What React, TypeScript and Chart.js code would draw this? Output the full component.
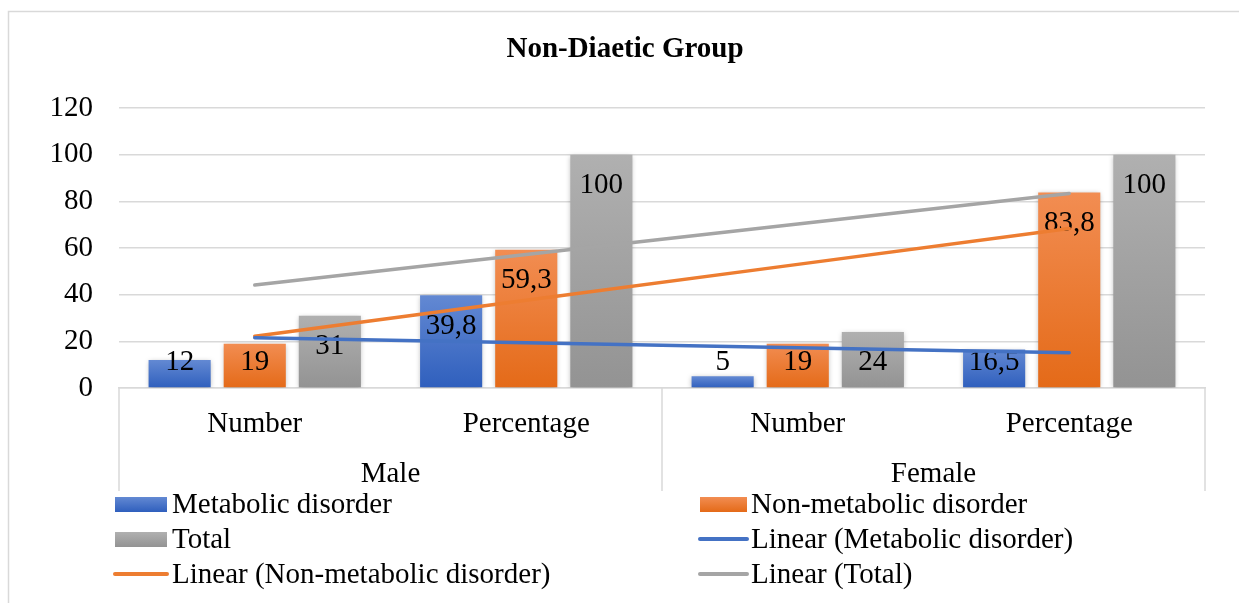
import { useEffect, useRef } from "react";
import { Chart, registerables } from "chart.js";

Chart.register(...registerables);

const categories = ["Number", "Percentage", "Number", "Percentage"];
const groups = ["Male", "Female"];
const metabolic = [12, 39.8, 5, 16.5];
const nonMetabolic = [19, 59.3, 19, 83.8];
const totals = [31, 100, 24, 100];
const yMax = 120;
const yStep = 20;

const FONT = "'Liberation Serif', 'Times New Roman', serif";
const TEXT_SIZE = 29;

const BLUE = { line: "#4472C4", top: "#6389d3", bottom: "#2f5fbd" };
const ORANGE = { line: "#ED7D31", top: "#f28d52", bottom: "#e46a18" };
const GRAY = { line: "#A5A5A5", top: "#b0b0b0", bottom: "#939393" };

// Least-squares straight line through the series, evaluated at each category
function linearTrend(values: number[]): number[] {
  const n = values.length;
  const xs = values.map((_, i) => i + 1);
  const mx = xs.reduce((a, b) => a + b, 0) / n;
  const my = values.reduce((a, b) => a + b, 0) / n;
  let sxy = 0;
  let sxx = 0;
  xs.forEach((x, i) => {
    sxy += (x - mx) * (values[i] - my);
    sxx += (x - mx) * (x - mx);
  });
  const slope = sxy / sxx;
  return xs.map((x) => my + slope * (x - mx));
}

function barFill(top: string, bottom: string) {
  return (ctx: any) => {
    const chart = ctx.chart;
    const y = chart.scales?.y;
    if (!y || ctx.type !== "data") return bottom;
    const v = typeof ctx.raw === "number" ? ctx.raw : 0;
    const y0 = y.getPixelForValue(0);
    const y1 = y.getPixelForValue(v);
    if (!isFinite(y0) || !isFinite(y1) || y0 === y1) return bottom;
    const g = chart.ctx.createLinearGradient(0, y1, 0, y0);
    g.addColorStop(0, top);
    g.addColorStop(1, bottom);
    return g;
  };
}

const formatValue = (v: number) => String(v).replace(".", ",");

const legendItems = [
  { label: "Metabolic disorder", kind: "bar", c: BLUE, col: 0, row: 0 },
  { label: "Non-metabolic disorder", kind: "bar", c: ORANGE, col: 1, row: 0 },
  { label: "Total", kind: "bar", c: GRAY, col: 0, row: 1 },
  { label: "Linear (Metabolic disorder)", kind: "line", c: BLUE, col: 1, row: 1 },
  { label: "Linear (Non-metabolic disorder)", kind: "line", c: ORANGE, col: 0, row: 2 },
  { label: "Linear (Total)", kind: "line", c: GRAY, col: 1, row: 2 },
];

const decorPlugin = {
  id: "decor",
  beforeDraw(chart: any) {
    const ctx = chart.ctx;
    ctx.save();
    ctx.fillStyle = "#ffffff";
    ctx.fillRect(0, 0, chart.width, chart.height);
    ctx.strokeStyle = "#d9d9d9";
    ctx.lineWidth = 1.5;
    ctx.strokeRect(8.5, 11.5, chart.width + 40, chart.height + 40);
    ctx.restore();
  },
  beforeDatasetDraw(chart: any, args: any) {
    if (args.meta.type !== "bar") return;
    const ctx = chart.ctx;
    ctx.save();
    ctx.shadowColor = "rgba(0,0,0,0.28)";
    ctx.shadowBlur = 5;
    ctx.shadowOffsetX = 0;
    ctx.shadowOffsetY = 1;
  },
  afterDatasetDraw(chart: any, args: any) {
    if (args.meta.type !== "bar") return;
    const ctx = chart.ctx;
    ctx.restore();
    const y0 = chart.scales.y.getPixelForValue(0);
    const data = chart.data.datasets[args.index].data as number[];
    ctx.save();
    ctx.fillStyle = "#000";
    ctx.font = `${TEXT_SIZE}px ${FONT}`;
    ctx.textAlign = "center";
    ctx.textBaseline = "middle";
    args.meta.data.forEach((el: any, i: number) => {
      const yc = Math.min(el.y + 31, y0 - 26);
      ctx.fillText(formatValue(data[i]), el.x, yc);
    });
    ctx.restore();
  },
  afterDraw(chart: any) {
    const ctx = chart.ctx;
    const area = chart.chartArea;
    const xs = chart.scales.x;
    ctx.save();

    // Title, centred on the chart frame
    ctx.fillStyle = "#000";
    ctx.font = `bold ${TEXT_SIZE}px ${FONT}`;
    ctx.textAlign = "center";
    ctx.textBaseline = "alphabetic";
    ctx.fillText("Non-Diaetic Group", 625, 57);

    // Two-level category axis
    ctx.font = `${TEXT_SIZE}px ${FONT}`;
    categories.forEach((c, i) => {
      ctx.fillText(c, xs.getPixelForValue(i), 432);
    });
    const perGroup = categories.length / groups.length;
    const step = (area.right - area.left) / categories.length;
    ctx.strokeStyle = "#d9d9d9";
    ctx.lineWidth = 1.5;
    for (let g = 0; g <= groups.length; g++) {
      const x = area.left + g * perGroup * step;
      ctx.beginPath();
      ctx.moveTo(x, area.bottom);
      ctx.lineTo(x, 491);
      ctx.stroke();
    }
    groups.forEach((g, i) => {
      const x = area.left + (i + 0.5) * perGroup * step;
      ctx.fillText(g, x, 482);
    });

    // Legend in two columns
    const colX = [
      { s0: 115, s1: 167, t: 172 },
      { s0: 700, s1: 747, t: 751 },
    ];
    const baselines = [513, 548, 583];
    ctx.textAlign = "left";
    legendItems.forEach((it) => {
      const col = colX[it.col];
      const base = baselines[it.row];
      if (it.kind === "bar") {
        const top = base - 16;
        const g = ctx.createLinearGradient(0, top, 0, top + 15);
        g.addColorStop(0, it.c.top);
        g.addColorStop(1, it.c.bottom);
        ctx.fillStyle = g;
        ctx.fillRect(col.s0, top, col.s1 - col.s0, 15);
      } else {
        ctx.strokeStyle = it.c.line;
        ctx.lineWidth = 4;
        ctx.lineCap = "round";
        ctx.beginPath();
        ctx.moveTo(col.s0, base - 9);
        ctx.lineTo(col.s1, base - 9);
        ctx.stroke();
      }
      ctx.fillStyle = "#000";
      ctx.fillText(it.label, col.t, base);
    });
    ctx.restore();
  },
};

export default function App() {
  const canvasRef = useRef<HTMLCanvasElement | null>(null);

  useEffect(() => {
    if (!canvasRef.current) return;
    const barCommon = {
      type: "bar" as const,
      order: 2,
      categoryPercentage: 0.83,
      barPercentage: 0.827,
      borderWidth: 0,
    };
    const lineCommon = {
      type: "line" as const,
      order: 1,
      borderWidth: 3.5,
      pointRadius: 0,
      pointHoverRadius: 0,
      tension: 0,
      fill: false,
      borderCapStyle: "round" as const,
    };
    const chart = new Chart(canvasRef.current, {
      type: "bar",
      data: {
        labels: categories,
        datasets: [
          { ...barCommon, label: "Metabolic disorder", data: metabolic, backgroundColor: barFill(BLUE.top, BLUE.bottom) },
          { ...barCommon, label: "Non-metabolic disorder", data: nonMetabolic, backgroundColor: barFill(ORANGE.top, ORANGE.bottom) },
          { ...barCommon, label: "Total", data: totals, backgroundColor: barFill(GRAY.top, GRAY.bottom) },
          { ...lineCommon, label: "Linear (Metabolic disorder)", data: linearTrend(metabolic), borderColor: BLUE.line },
          { ...lineCommon, label: "Linear (Non-metabolic disorder)", data: linearTrend(nonMetabolic), borderColor: ORANGE.line },
          { ...lineCommon, label: "Linear (Total)", data: linearTrend(totals), borderColor: GRAY.line },
        ] as any,
      },
      options: {
        animation: false,
        responsive: true,
        maintainAspectRatio: false,
        layout: { padding: { left: 0, right: 34, top: 108, bottom: 215 } },
        plugins: {
          legend: { display: false },
          title: { display: false },
          tooltip: { enabled: false },
        },
        scales: {
          x: {
            ticks: { display: false },
            grid: { display: false },
            border: { display: true, color: "#d9d9d9", width: 1.5 },
            afterFit: (s: any) => {
              s.height = 0;
            },
          },
          y: {
            min: 0,
            max: yMax,
            ticks: {
              stepSize: yStep,
              color: "#000",
              padding: 26,
              font: { family: FONT, size: TEXT_SIZE },
            },
            grid: { color: "#d9d9d9", lineWidth: 1.5, drawTicks: false },
            border: { display: false },
            afterFit: (s: any) => {
              s.width = 119;
            },
          },
        },
      },
      plugins: [decorPlugin],
    });
    return () => chart.destroy();
  }, []);

  return (
    <div style={{ position: "fixed", left: 0, top: 0, width: 1239, height: 603, background: "#fff" }}>
      <canvas ref={canvasRef} />
    </div>
  );
}
